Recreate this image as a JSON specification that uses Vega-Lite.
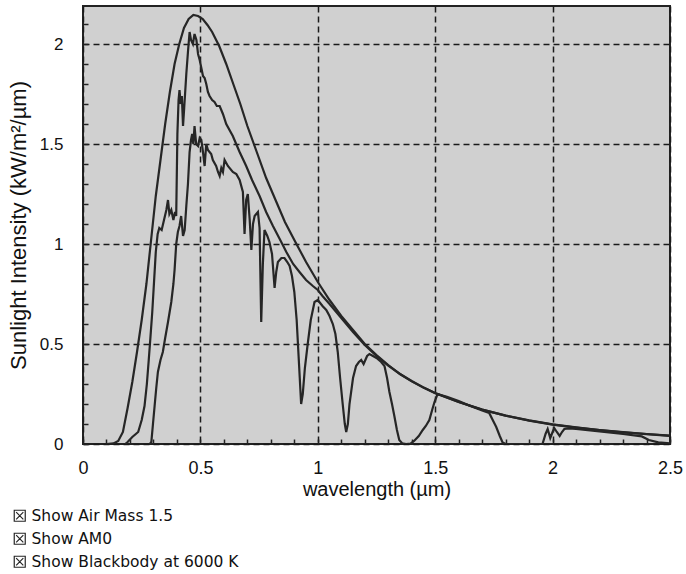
{
  "$schema": "https://vega.github.io/schema/vega-lite/v6.json",
  "width": 587,
  "height": 438,
  "autosize": {"type": "none"},
  "padding": {"left": 83, "top": 6, "right": 16, "bottom": 130},
  "background": "white",
  "config": {
    "view": {"fill": "#d0d0d0", "stroke": "#222222", "strokeWidth": 2},
    "font": "Liberation Sans"
  },
  "data": {
    "values": [
      {"s":"Blackbody at 6000 K","wl":0.1,"v":0},{"s":"Blackbody at 6000 K","wl":0.13,"v":0.003},{"s":"Blackbody at 6000 K","wl":0.15,"v":0.015},{"s":"Blackbody at 6000 K","wl":0.17,"v":0.06},{"s":"Blackbody at 6000 K","wl":0.19,"v":0.18},{"s":"Blackbody at 6000 K","wl":0.21,"v":0.31},{"s":"Blackbody at 6000 K","wl":0.23,"v":0.46},{"s":"Blackbody at 6000 K","wl":0.25,"v":0.62},{"s":"Blackbody at 6000 K","wl":0.27,"v":0.8},{"s":"Blackbody at 6000 K","wl":0.29,"v":1.02},{"s":"Blackbody at 6000 K","wl":0.31,"v":1.24},{"s":"Blackbody at 6000 K","wl":0.33,"v":1.42},{"s":"Blackbody at 6000 K","wl":0.35,"v":1.6},{"s":"Blackbody at 6000 K","wl":0.37,"v":1.76},{"s":"Blackbody at 6000 K","wl":0.39,"v":1.9},{"s":"Blackbody at 6000 K","wl":0.41,"v":2.0},{"s":"Blackbody at 6000 K","wl":0.43,"v":2.08},{"s":"Blackbody at 6000 K","wl":0.45,"v":2.125},{"s":"Blackbody at 6000 K","wl":0.47,"v":2.145},{"s":"Blackbody at 6000 K","wl":0.49,"v":2.14},{"s":"Blackbody at 6000 K","wl":0.51,"v":2.125},{"s":"Blackbody at 6000 K","wl":0.53,"v":2.095},{"s":"Blackbody at 6000 K","wl":0.55,"v":2.06},{"s":"Blackbody at 6000 K","wl":0.58,"v":1.99},{"s":"Blackbody at 6000 K","wl":0.61,"v":1.9},{"s":"Blackbody at 6000 K","wl":0.64,"v":1.8},{"s":"Blackbody at 6000 K","wl":0.67,"v":1.7},{"s":"Blackbody at 6000 K","wl":0.7,"v":1.59},{"s":"Blackbody at 6000 K","wl":0.74,"v":1.46},{"s":"Blackbody at 6000 K","wl":0.78,"v":1.33},{"s":"Blackbody at 6000 K","wl":0.82,"v":1.22},{"s":"Blackbody at 6000 K","wl":0.86,"v":1.11},{"s":"Blackbody at 6000 K","wl":0.9,"v":1.02},{"s":"Blackbody at 6000 K","wl":0.95,"v":0.91},{"s":"Blackbody at 6000 K","wl":1.0,"v":0.81},{"s":"Blackbody at 6000 K","wl":1.05,"v":0.72},{"s":"Blackbody at 6000 K","wl":1.1,"v":0.64},{"s":"Blackbody at 6000 K","wl":1.15,"v":0.57},{"s":"Blackbody at 6000 K","wl":1.2,"v":0.5},{"s":"Blackbody at 6000 K","wl":1.25,"v":0.445},{"s":"Blackbody at 6000 K","wl":1.3,"v":0.395},{"s":"Blackbody at 6000 K","wl":1.35,"v":0.35},{"s":"Blackbody at 6000 K","wl":1.4,"v":0.315},{"s":"Blackbody at 6000 K","wl":1.45,"v":0.283},{"s":"Blackbody at 6000 K","wl":1.5,"v":0.255},{"s":"Blackbody at 6000 K","wl":1.6,"v":0.21},{"s":"Blackbody at 6000 K","wl":1.7,"v":0.172},{"s":"Blackbody at 6000 K","wl":1.8,"v":0.142},{"s":"Blackbody at 6000 K","wl":1.9,"v":0.117},{"s":"Blackbody at 6000 K","wl":2.0,"v":0.097},{"s":"Blackbody at 6000 K","wl":2.1,"v":0.082},{"s":"Blackbody at 6000 K","wl":2.2,"v":0.069},{"s":"Blackbody at 6000 K","wl":2.3,"v":0.058},{"s":"Blackbody at 6000 K","wl":2.4,"v":0.049},{"s":"Blackbody at 6000 K","wl":2.5,"v":0.041},

      {"s":"AM0","wl":0.18,"v":0},{"s":"AM0","wl":0.19,"v":0.01},{"s":"AM0","wl":0.21,"v":0.035},{"s":"AM0","wl":0.225,"v":0.05},{"s":"AM0","wl":0.235,"v":0.06},{"s":"AM0","wl":0.25,"v":0.12},{"s":"AM0","wl":0.262,"v":0.19},{"s":"AM0","wl":0.272,"v":0.3},{"s":"AM0","wl":0.28,"v":0.42},{"s":"AM0","wl":0.287,"v":0.53},{"s":"AM0","wl":0.295,"v":0.66},{"s":"AM0","wl":0.303,"v":0.82},{"s":"AM0","wl":0.31,"v":0.96},{"s":"AM0","wl":0.318,"v":1.05},{"s":"AM0","wl":0.325,"v":1.08},{"s":"AM0","wl":0.335,"v":1.07},{"s":"AM0","wl":0.345,"v":1.12},{"s":"AM0","wl":0.355,"v":1.17},{"s":"AM0","wl":0.362,"v":1.22},{"s":"AM0","wl":0.368,"v":1.15},{"s":"AM0","wl":0.376,"v":1.17},{"s":"AM0","wl":0.385,"v":1.12},{"s":"AM0","wl":0.392,"v":1.16},{"s":"AM0","wl":0.397,"v":1.14},{"s":"AM0","wl":0.402,"v":1.55},{"s":"AM0","wl":0.407,"v":1.72},{"s":"AM0","wl":0.411,"v":1.77},{"s":"AM0","wl":0.416,"v":1.7},{"s":"AM0","wl":0.421,"v":1.74},{"s":"AM0","wl":0.426,"v":1.59},{"s":"AM0","wl":0.431,"v":1.68},{"s":"AM0","wl":0.44,"v":1.85},{"s":"AM0","wl":0.447,"v":1.96},{"s":"AM0","wl":0.454,"v":2.06},{"s":"AM0","wl":0.46,"v":2.02},{"s":"AM0","wl":0.468,"v":2.0},{"s":"AM0","wl":0.475,"v":2.05},{"s":"AM0","wl":0.483,"v":2.02},{"s":"AM0","wl":0.49,"v":1.95},{"s":"AM0","wl":0.497,"v":1.92},{"s":"AM0","wl":0.504,"v":1.88},{"s":"AM0","wl":0.511,"v":1.84},{"s":"AM0","wl":0.518,"v":1.83},{"s":"AM0","wl":0.525,"v":1.8},{"s":"AM0","wl":0.532,"v":1.76},{"s":"AM0","wl":0.539,"v":1.74},{"s":"AM0","wl":0.55,"v":1.72},{"s":"AM0","wl":0.56,"v":1.71},{"s":"AM0","wl":0.57,"v":1.69},{"s":"AM0","wl":0.582,"v":1.69},{"s":"AM0","wl":0.596,"v":1.65},{"s":"AM0","wl":0.61,"v":1.6},{"s":"AM0","wl":0.638,"v":1.54},{"s":"AM0","wl":0.667,"v":1.46},{"s":"AM0","wl":0.695,"v":1.39},{"s":"AM0","wl":0.72,"v":1.32},{"s":"AM0","wl":0.752,"v":1.24},{"s":"AM0","wl":0.78,"v":1.16},{"s":"AM0","wl":0.809,"v":1.09},{"s":"AM0","wl":0.84,"v":1.02},{"s":"AM0","wl":0.866,"v":0.96},{"s":"AM0","wl":0.895,"v":0.9},{"s":"AM0","wl":0.922,"v":0.86},{"s":"AM0","wl":0.95,"v":0.82},{"s":"AM0","wl":0.979,"v":0.79},{"s":"AM0","wl":1.0,"v":0.77},{"s":"AM0","wl":1.02,"v":0.74},{"s":"AM0","wl":1.05,"v":0.7},{"s":"AM0","wl":1.1,"v":0.63},{"s":"AM0","wl":1.15,"v":0.56},{"s":"AM0","wl":1.2,"v":0.495},{"s":"AM0","wl":1.25,"v":0.44},{"s":"AM0","wl":1.3,"v":0.392},{"s":"AM0","wl":1.35,"v":0.35},{"s":"AM0","wl":1.4,"v":0.313},{"s":"AM0","wl":1.45,"v":0.282},{"s":"AM0","wl":1.5,"v":0.254},{"s":"AM0","wl":1.6,"v":0.21},{"s":"AM0","wl":1.7,"v":0.172},{"s":"AM0","wl":1.8,"v":0.142},{"s":"AM0","wl":1.9,"v":0.118},{"s":"AM0","wl":2.0,"v":0.098},{"s":"AM0","wl":2.1,"v":0.083},{"s":"AM0","wl":2.2,"v":0.07},{"s":"AM0","wl":2.3,"v":0.059},{"s":"AM0","wl":2.4,"v":0.05},{"s":"AM0","wl":2.5,"v":0.042},

      {"s":"Air Mass 1.5","wl":0.285,"v":0},{"s":"Air Mass 1.5","wl":0.291,"v":0.01},{"s":"Air Mass 1.5","wl":0.298,"v":0.1},{"s":"Air Mass 1.5","wl":0.305,"v":0.19},{"s":"Air Mass 1.5","wl":0.312,"v":0.28},{"s":"Air Mass 1.5","wl":0.319,"v":0.36},{"s":"Air Mass 1.5","wl":0.33,"v":0.42},{"s":"Air Mass 1.5","wl":0.34,"v":0.46},{"s":"Air Mass 1.5","wl":0.35,"v":0.53},{"s":"Air Mass 1.5","wl":0.362,"v":0.61},{"s":"Air Mass 1.5","wl":0.376,"v":0.71},{"s":"Air Mass 1.5","wl":0.385,"v":0.8},{"s":"Air Mass 1.5","wl":0.39,"v":0.87},{"s":"Air Mass 1.5","wl":0.397,"v":1.0},{"s":"Air Mass 1.5","wl":0.404,"v":1.06},{"s":"Air Mass 1.5","wl":0.411,"v":1.09},{"s":"Air Mass 1.5","wl":0.418,"v":1.14},{"s":"Air Mass 1.5","wl":0.426,"v":1.04},{"s":"Air Mass 1.5","wl":0.433,"v":1.07},{"s":"Air Mass 1.5","wl":0.44,"v":1.19},{"s":"Air Mass 1.5","wl":0.447,"v":1.3},{"s":"Air Mass 1.5","wl":0.454,"v":1.46},{"s":"Air Mass 1.5","wl":0.46,"v":1.52},{"s":"Air Mass 1.5","wl":0.465,"v":1.55},{"s":"Air Mass 1.5","wl":0.47,"v":1.5},{"s":"Air Mass 1.5","wl":0.475,"v":1.59},{"s":"Air Mass 1.5","wl":0.482,"v":1.5},{"s":"Air Mass 1.5","wl":0.49,"v":1.49},{"s":"Air Mass 1.5","wl":0.497,"v":1.53},{"s":"Air Mass 1.5","wl":0.504,"v":1.52},{"s":"Air Mass 1.5","wl":0.511,"v":1.46},{"s":"Air Mass 1.5","wl":0.518,"v":1.39},{"s":"Air Mass 1.5","wl":0.525,"v":1.5},{"s":"Air Mass 1.5","wl":0.532,"v":1.47},{"s":"Air Mass 1.5","wl":0.539,"v":1.46},{"s":"Air Mass 1.5","wl":0.546,"v":1.45},{"s":"Air Mass 1.5","wl":0.553,"v":1.42},{"s":"Air Mass 1.5","wl":0.567,"v":1.39},{"s":"Air Mass 1.5","wl":0.575,"v":1.36},{"s":"Air Mass 1.5","wl":0.582,"v":1.34},{"s":"Air Mass 1.5","wl":0.589,"v":1.38},{"s":"Air Mass 1.5","wl":0.596,"v":1.36},{"s":"Air Mass 1.5","wl":0.603,"v":1.42},{"s":"Air Mass 1.5","wl":0.617,"v":1.39},{"s":"Air Mass 1.5","wl":0.638,"v":1.36},{"s":"Air Mass 1.5","wl":0.653,"v":1.35},{"s":"Air Mass 1.5","wl":0.667,"v":1.32},{"s":"Air Mass 1.5","wl":0.681,"v":1.26},{"s":"Air Mass 1.5","wl":0.688,"v":1.05},{"s":"Air Mass 1.5","wl":0.695,"v":1.22},{"s":"Air Mass 1.5","wl":0.702,"v":1.25},{"s":"Air Mass 1.5","wl":0.71,"v":1.12},{"s":"Air Mass 1.5","wl":0.717,"v":0.97},{"s":"Air Mass 1.5","wl":0.724,"v":1.1},{"s":"Air Mass 1.5","wl":0.731,"v":1.14},{"s":"Air Mass 1.5","wl":0.745,"v":1.16},{"s":"Air Mass 1.5","wl":0.752,"v":1.08},{"s":"Air Mass 1.5","wl":0.759,"v":0.61},{"s":"Air Mass 1.5","wl":0.766,"v":0.9},{"s":"Air Mass 1.5","wl":0.773,"v":1.07},{"s":"Air Mass 1.5","wl":0.785,"v":1.04},{"s":"Air Mass 1.5","wl":0.794,"v":1.01},{"s":"Air Mass 1.5","wl":0.805,"v":0.95},{"s":"Air Mass 1.5","wl":0.816,"v":0.78},{"s":"Air Mass 1.5","wl":0.823,"v":0.86},{"s":"Air Mass 1.5","wl":0.83,"v":0.91},{"s":"Air Mass 1.5","wl":0.845,"v":0.93},{"s":"Air Mass 1.5","wl":0.858,"v":0.93},{"s":"Air Mass 1.5","wl":0.87,"v":0.91},{"s":"Air Mass 1.5","wl":0.88,"v":0.89},{"s":"Air Mass 1.5","wl":0.89,"v":0.84},{"s":"Air Mass 1.5","wl":0.9,"v":0.76},{"s":"Air Mass 1.5","wl":0.91,"v":0.62},{"s":"Air Mass 1.5","wl":0.92,"v":0.4},{"s":"Air Mass 1.5","wl":0.929,"v":0.2},{"s":"Air Mass 1.5","wl":0.936,"v":0.25},{"s":"Air Mass 1.5","wl":0.945,"v":0.38},{"s":"Air Mass 1.5","wl":0.957,"v":0.5},{"s":"Air Mass 1.5","wl":0.97,"v":0.62},{"s":"Air Mass 1.5","wl":0.986,"v":0.71},{"s":"Air Mass 1.5","wl":1.0,"v":0.72},{"s":"Air Mass 1.5","wl":1.02,"v":0.69},{"s":"Air Mass 1.5","wl":1.036,"v":0.67},{"s":"Air Mass 1.5","wl":1.05,"v":0.64},{"s":"Air Mass 1.5","wl":1.064,"v":0.6},{"s":"Air Mass 1.5","wl":1.075,"v":0.55},{"s":"Air Mass 1.5","wl":1.085,"v":0.46},{"s":"Air Mass 1.5","wl":1.095,"v":0.33},{"s":"Air Mass 1.5","wl":1.106,"v":0.2},{"s":"Air Mass 1.5","wl":1.115,"v":0.1},{"s":"Air Mass 1.5","wl":1.121,"v":0.06},{"s":"Air Mass 1.5","wl":1.128,"v":0.1},{"s":"Air Mass 1.5","wl":1.135,"v":0.2},{"s":"Air Mass 1.5","wl":1.15,"v":0.33},{"s":"Air Mass 1.5","wl":1.163,"v":0.39},{"s":"Air Mass 1.5","wl":1.175,"v":0.41},{"s":"Air Mass 1.5","wl":1.185,"v":0.42},{"s":"Air Mass 1.5","wl":1.195,"v":0.4},{"s":"Air Mass 1.5","wl":1.21,"v":0.44},{"s":"Air Mass 1.5","wl":1.22,"v":0.45},{"s":"Air Mass 1.5","wl":1.235,"v":0.44},{"s":"Air Mass 1.5","wl":1.25,"v":0.43},{"s":"Air Mass 1.5","wl":1.27,"v":0.41},{"s":"Air Mass 1.5","wl":1.284,"v":0.39},{"s":"Air Mass 1.5","wl":1.295,"v":0.33},{"s":"Air Mass 1.5","wl":1.305,"v":0.26},{"s":"Air Mass 1.5","wl":1.316,"v":0.2},{"s":"Air Mass 1.5","wl":1.326,"v":0.14},{"s":"Air Mass 1.5","wl":1.337,"v":0.07},{"s":"Air Mass 1.5","wl":1.347,"v":0.02},{"s":"Air Mass 1.5","wl":1.36,"v":0.003},{"s":"Air Mass 1.5","wl":1.376,"v":0},{"s":"Air Mass 1.5","wl":1.395,"v":0.002},{"s":"Air Mass 1.5","wl":1.41,"v":0.015},{"s":"Air Mass 1.5","wl":1.43,"v":0.04},{"s":"Air Mass 1.5","wl":1.447,"v":0.07},{"s":"Air Mass 1.5","wl":1.46,"v":0.09},{"s":"Air Mass 1.5","wl":1.475,"v":0.12},{"s":"Air Mass 1.5","wl":1.487,"v":0.17},{"s":"Air Mass 1.5","wl":1.497,"v":0.21},{"s":"Air Mass 1.5","wl":1.51,"v":0.25},{"s":"Air Mass 1.5","wl":1.55,"v":0.236},{"s":"Air Mass 1.5","wl":1.6,"v":0.215},{"s":"Air Mass 1.5","wl":1.65,"v":0.19},{"s":"Air Mass 1.5","wl":1.7,"v":0.168},{"s":"Air Mass 1.5","wl":1.73,"v":0.155},{"s":"Air Mass 1.5","wl":1.745,"v":0.12},{"s":"Air Mass 1.5","wl":1.76,"v":0.085},{"s":"Air Mass 1.5","wl":1.775,"v":0.04},{"s":"Air Mass 1.5","wl":1.787,"v":0.008},{"s":"Air Mass 1.5","wl":1.8,"v":0},{"s":"Air Mass 1.5","wl":1.9,"v":0},{"s":"Air Mass 1.5","wl":1.957,"v":0},{"s":"Air Mass 1.5","wl":1.97,"v":0.05},{"s":"Air Mass 1.5","wl":1.979,"v":0.075},{"s":"Air Mass 1.5","wl":1.99,"v":0.03},{"s":"Air Mass 1.5","wl":2.0,"v":0.06},{"s":"Air Mass 1.5","wl":2.007,"v":0.08},{"s":"Air Mass 1.5","wl":2.018,"v":0.06},{"s":"Air Mass 1.5","wl":2.03,"v":0.04},{"s":"Air Mass 1.5","wl":2.04,"v":0.06},{"s":"Air Mass 1.5","wl":2.05,"v":0.075},{"s":"Air Mass 1.5","wl":2.07,"v":0.078},{"s":"Air Mass 1.5","wl":2.1,"v":0.075},{"s":"Air Mass 1.5","wl":2.2,"v":0.063},{"s":"Air Mass 1.5","wl":2.3,"v":0.05},{"s":"Air Mass 1.5","wl":2.38,"v":0.038},{"s":"Air Mass 1.5","wl":2.41,"v":0.02},{"s":"Air Mass 1.5","wl":2.45,"v":0.008},{"s":"Air Mass 1.5","wl":2.5,"v":0.003}
    ]
  },
  "mark": {"type": "line", "strokeWidth": 2.2, "clip": true},
  "encoding": {
    "x": {
      "field": "wl", "type": "quantitative",
      "scale": {"domain": [0, 2.5], "nice": false, "zero": false},
      "axis": {
        "title": "wavelength (µm)",
        "values": [0,0.1,0.2,0.3,0.4,0.5,0.6,0.7,0.8,0.9,1,1.1,1.2,1.3,1.4,1.5,1.6,1.7,1.8,1.9,2,2.1,2.2,2.3,2.4,2.5],
        "format": "~g",
        "labelExpr": "round(datum.value*10) % 5 === 0 ? datum.label : ''",
        "labelOverlap": false,
        "labelFlush": false,
        "labelFontSize": 18,
        "labelColor": "#111111",
        "labelPadding": 20,
        "grid": true,
        "gridColor": "#1a1a1a",
        "gridDash": [6, 4],
        "gridWidth": 1.5,
        "gridOpacity": {"condition": {"test": "round(datum.value*10) % 5 === 0", "value": 1}, "value": 0},
        "domain": false,
        "ticks": true,
        "tickSize": -5,
        "tickColor": "#222222",
        "tickWidth": 1.5,
        "titleFontSize": 20,
        "titleFontWeight": "normal",
        "titleColor": "#111111",
        "titlePadding": 2
      }
    },
    "y": {
      "field": "v", "type": "quantitative",
      "scale": {"domain": [0, 2.19], "nice": false},
      "axis": {
        "title": "Sunlight Intensity (kW/m²/µm)",
        "values": [0,0.1,0.2,0.3,0.4,0.5,0.6,0.7,0.8,0.9,1,1.1,1.2,1.3,1.4,1.5,1.6,1.7,1.8,1.9,2,2.1],
        "format": "~g",
        "labelExpr": "round(datum.value*10) % 5 === 0 ? datum.label : ''",
        "labelOverlap": false,
        "labelFlush": false,
        "labelFontSize": 17,
        "labelColor": "#111111",
        "labelPadding": 25,
        "grid": true,
        "gridColor": "#1a1a1a",
        "gridDash": [6, 4],
        "gridWidth": 1.5,
        "gridOpacity": {"condition": {"test": "round(datum.value*10) % 5 === 0", "value": 1}, "value": 0},
        "domain": false,
        "ticks": true,
        "tickSize": -5,
        "tickColor": "#222222",
        "tickWidth": 1.5,
        "titleFontSize": 22,
        "titleFontWeight": "normal",
        "titleColor": "#111111",
        "titlePadding": 9
      }
    },
    "color": {
      "field": "s", "type": "nominal",
      "scale": {"domain": ["Air Mass 1.5", "AM0", "Blackbody at 6000 K"], "range": ["#262626", "#262626", "#262626"]},
      "legend": {
        "title": null,
        "orient": "none",
        "legendX": -71,
        "legendY": 502,
        "direction": "vertical",
        "labelExpr": "'Show ' + datum.label",
        "labelFont": "DejaVu Sans",
        "labelFontSize": 15.5,
        "labelLimit": 0,
        "labelColor": "#111111",
        "labelOffset": 4,
        "rowPadding": 5,
        "symbolType": "M-1,-1H1V1H-1Z M-0.65,-0.65L0.65,0.65 M0.65,-0.65L-0.65,0.65",
        "symbolSize": 121,
        "symbolStrokeWidth": 1.2,
        "encode": {
          "symbols": {"update": {"fill": {"value": "white"}, "stroke": {"value": "#222222"}, "strokeWidth": {"value": 1.2}}}
        }
      }
    }
  }
}
